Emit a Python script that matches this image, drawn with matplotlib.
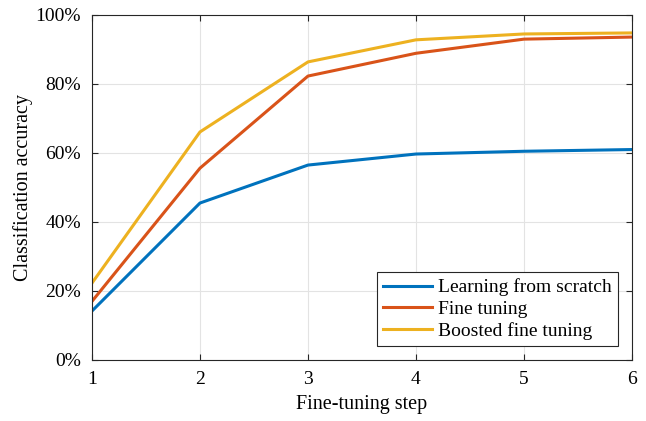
import matplotlib

matplotlib.use('Agg')
import matplotlib.pyplot as plt
from matplotlib.ticker import FuncFormatter

steps = [1, 2, 3, 4, 5, 6]
scratch = [14.2, 45.5, 56.5, 59.7, 60.5, 61.0]
fine = [17.0, 55.6, 82.3, 88.9, 93.0, 93.6]
boosted = [22.3, 66.1, 86.4, 92.8, 94.5, 94.8]
labels = ['Learning from scratch', 'Fine tuning', 'Boosted fine tuning']
colors = ['#0072BD', '#D95319', '#EDB120']

plt.rcParams['font.family'] = ['Liberation Serif', 'DejaVu Serif']

fig = plt.figure(figsize=(6.46, 4.21), dpi=100)
ax = fig.add_axes([0.1424, 0.1449, 0.8359, 0.8195])

for series, lab, col in zip([scratch, fine, boosted], labels, colors):
    ax.plot(steps, series, color=col, lw=2.2, label=lab)

ax.set_xlim(1, 6)
ax.set_ylim(0, 100)
ax.set_xticks(steps)
ax.set_yticks(range(0, 101, 20))
ax.yaxis.set_major_formatter(FuncFormatter(lambda v, _: f'{int(v)}%'))
ax.grid(True, color='#e3e3e3', lw=0.8)
ax.set_axisbelow(True)
ax.tick_params(direction='in', labelsize=14, length=4, top=True, right=True,
               color='#262626', pad=8)
for s in ax.spines.values():
    s.set_color('#262626')
    s.set_linewidth(0.8)

ax.set_xlabel('Fine-tuning step', fontsize=14.5, labelpad=5)
ax.set_ylabel('Classification accuracy', fontsize=14.5, labelpad=1.5)

leg = ax.legend(loc='lower right', fontsize=14, fancybox=False, framealpha=1,
                edgecolor='#262626', handlelength=2.5, handletextpad=0.3,
                borderpad=0.35, labelspacing=0.2, borderaxespad=0.7)
leg.get_frame().set_linewidth(0.8)

fig.savefig('out.png', dpi=100)
